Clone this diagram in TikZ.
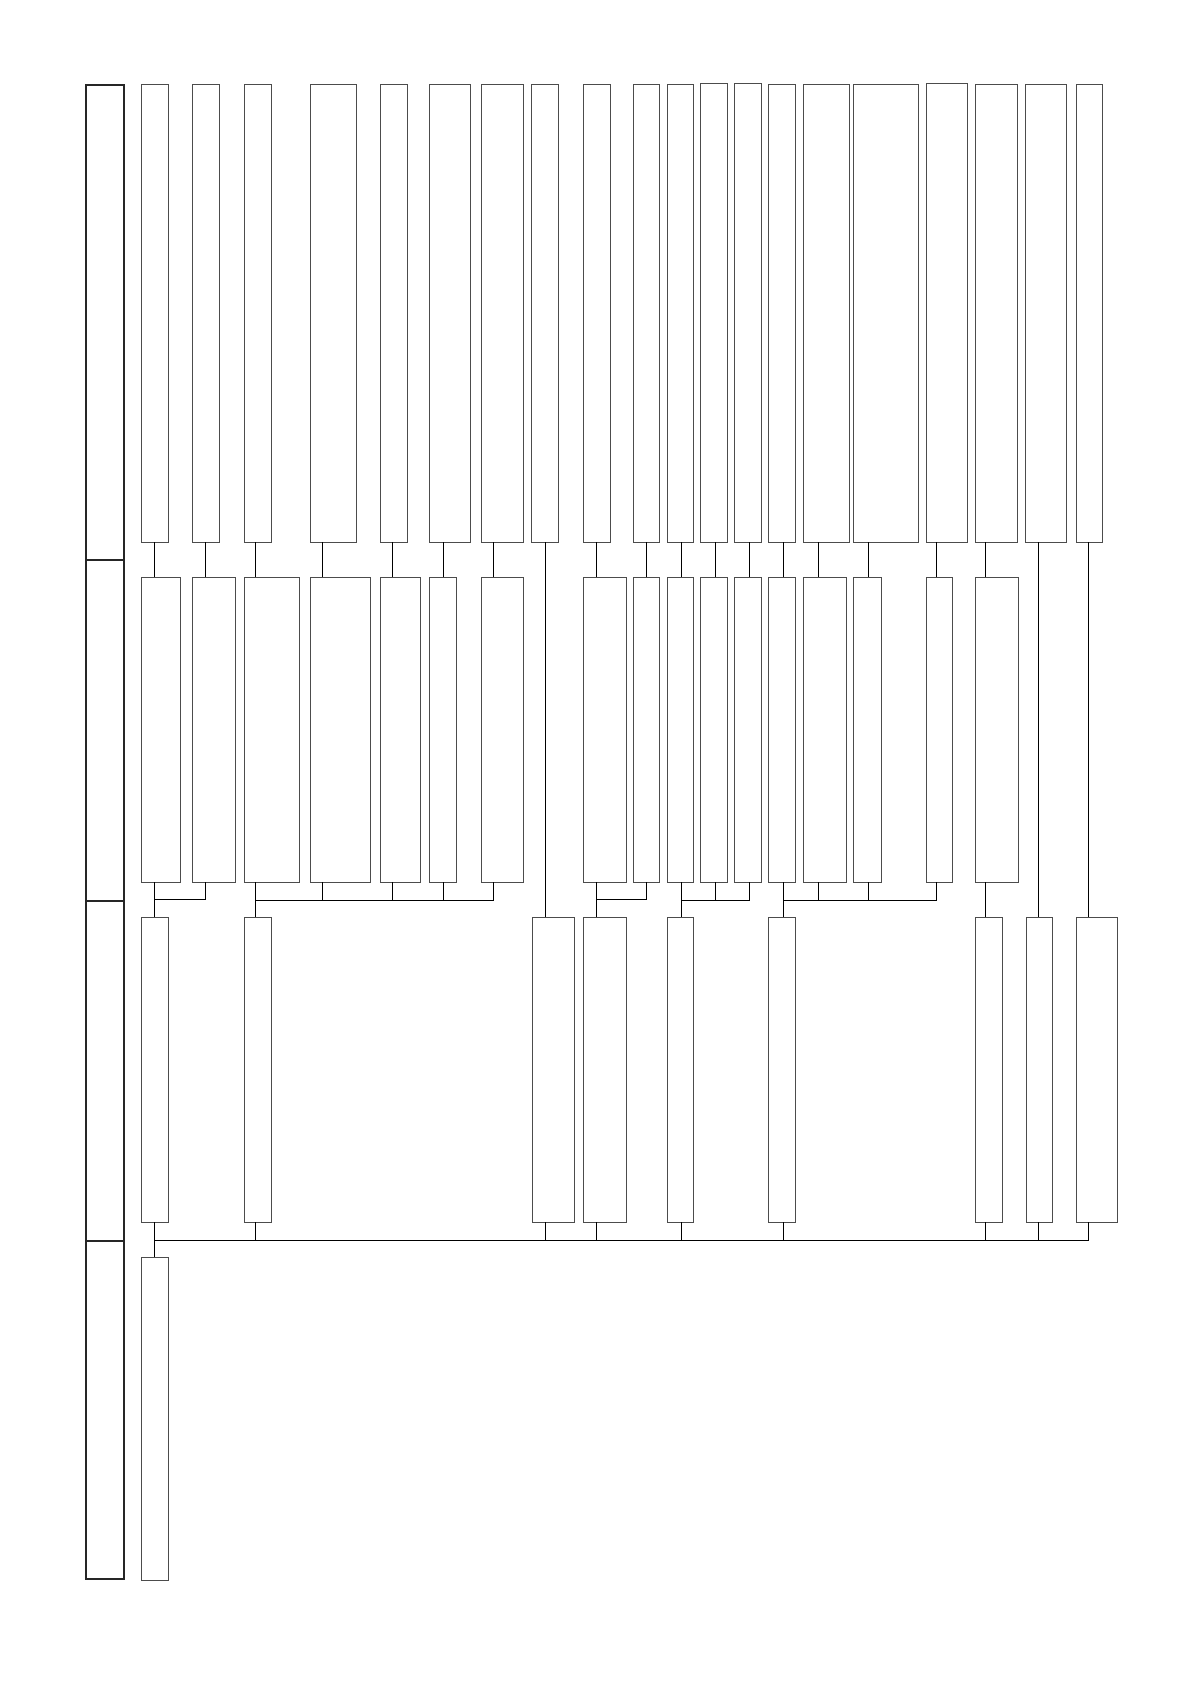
\documentclass[tikz,border=0pt]{standalone}
\begin{document}
\begin{tikzpicture}[x=1pt,y=-1pt,
  boxst/.style={draw=black!70,line width=0.9pt,inner sep=0pt,outer sep=0pt,rectangle},
  bandst/.style={draw=black!85,line width=2pt,inner sep=0pt,outer sep=0pt,rectangle},
  conn/.style={draw=black,line width=0.8pt}]
\useasboundingbox (0,0) rectangle (1190,1682);
\newcommand\mybox[6][boxst]{\node[#1,anchor=north west,minimum width={(#4-#3)*1pt},minimum height={(#6-#5)*1pt}] (#2) at (#3,#5) {};}
% left band
\mybox[bandst]{L1}{86}{123.5}{85}{560}
\mybox[bandst]{L2}{86}{123.5}{560}{901}
\mybox[bandst]{L3}{86}{123.5}{901}{1241}
\mybox[bandst]{L4}{86}{123.5}{1241}{1579}
% top row
\mybox{t1}{141.7}{168.1}{84}{542}
\mybox{t2}{192.5}{219.5}{84}{542}
\mybox{t3}{244.6}{271.0}{84}{542}
\mybox{t4}{310.3}{356.3}{84}{542}
\mybox{t5}{380.7}{407.8}{84}{542}
\mybox{t6}{429.4}{470.7}{84}{542}
\mybox{t7}{481.6}{523.5}{84}{542}
\mybox{t8}{531.6}{558.7}{84}{542}
\mybox{t9}{583.8}{610.9}{84}{542}
\mybox{t10}{633.2}{659.6}{84}{542}
\mybox{t11}{667.1}{693.5}{84}{542}
\mybox{t12}{700.9}{727.3}{83}{542}
\mybox{t13}{734.8}{761.2}{83}{542}
\mybox{t14}{768.7}{795.7}{84}{542}
\mybox{t15}{803.2}{849.2}{84}{542}
\mybox{t16}{853.3}{918.3}{84}{542}
\mybox{t17}{926.4}{967.0}{83}{542}
\mybox{t18}{975.8}{1017.1}{84}{542}
\mybox{t19}{1025.9}{1066.6}{84}{542}
\mybox{t20}{1076.0}{1102.4}{84}{542}
% second row
\mybox{s1}{141.7}{180.3}{577}{882}
\mybox{s2}{192.5}{235.1}{577}{882}
\mybox{s3}{244.6}{299.4}{577}{882}
\mybox{s4}{310.3}{370.5}{577}{882}
\mybox{s5}{380.7}{420.6}{577}{882}
\mybox{s6}{429.4}{456.5}{577}{882}
\mybox{s7}{481.6}{523.5}{577}{882}
\mybox{s9}{583.8}{626.5}{577}{882}
\mybox{s10}{633.2}{659.6}{577}{882}
\mybox{s11}{667.1}{693.5}{577}{882}
\mybox{s12}{700.9}{727.3}{577}{882}
\mybox{s13}{734.8}{761.2}{577}{882}
\mybox{s14}{768.7}{795.7}{577}{882}
\mybox{s15}{803.2}{846.5}{577}{882}
\mybox{s16}{853.3}{881.0}{577}{882}
\mybox{s17}{926.4}{952.1}{577}{882}
\mybox{s18}{975.8}{1018.5}{577}{882}
% third row
\mybox{rA}{141.7}{168.1}{917}{1222}
\mybox{rB}{244.6}{271.0}{917}{1222}
\mybox{rC}{532.0}{574.5}{917}{1222}
\mybox{rD}{583.8}{626.5}{917}{1222}
\mybox{rE}{667.1}{693.5}{917}{1222}
\mybox{rF}{768.7}{795.7}{917}{1222}
\mybox{rG}{975.7}{1002.0}{917}{1222}
\mybox{rH}{1026.0}{1052.8}{917}{1222}
\mybox{rI}{1076.5}{1117.8}{917}{1222}
% fourth row
\mybox{rJ}{141.7}{168.1}{1257}{1580}
% connector x positions and bar levels
\coordinate (k1) at (154.3,0);
\coordinate (k2) at (205,0);
\coordinate (k3) at (255.5,0);
\coordinate (k4) at (322.5,0);
\coordinate (k5) at (392.5,0);
\coordinate (k6) at (443,0);
\coordinate (k7) at (493,0);
\coordinate (k8) at (545,0);
\coordinate (k9) at (596,0);
\coordinate (k10) at (646,0);
\coordinate (k11) at (681,0);
\coordinate (k12) at (715,0);
\coordinate (k13) at (749,0);
\coordinate (k14) at (783.3,0);
\coordinate (k15) at (818,0);
\coordinate (k16) at (868.5,0);
\coordinate (k17) at (936,0);
\coordinate (k18) at (985.5,0);
\coordinate (k19) at (1038.5,0);
\coordinate (k20) at (1088,0);
\coordinate (gA) at (0,899.3);
\coordinate (gB) at (0,900.3);
\coordinate (gZ) at (0,1240.3);
% top -> second
\foreach \i in {1,2,3,4,5,6,7,9,10,11,12,13,14,15,16,17,18}{
  \draw[conn] (t\i.south -| k\i) -- (s\i.north -| k\i);
}
% second -> third (groups)
\draw[conn] (s1.south -| k1) -- (rA.north -| k1);
\draw[conn] (s2.south -| k2) |- (gA -| k1);
\draw[conn] (s3.south -| k3) -- (rB.north -| k3);
\foreach \i in {4,5,6,7}{\draw[conn] (s\i.south -| k\i) |- (gB -| k3);}
\draw[conn] (t8.south -| k8) -- (rC.north -| k8);
\draw[conn] (s9.south -| k9) -- (rD.north -| k9);
\draw[conn] (s10.south -| k10) |- (gA -| k9);
\draw[conn] (s11.south -| k11) -- (rE.north -| k11);
\foreach \i in {12,13}{\draw[conn] (s\i.south -| k\i) |- (gB -| k11);}
\draw[conn] (s14.south -| k14) -- (rF.north -| k14);
\foreach \i in {15,16,17}{\draw[conn] (s\i.south -| k\i) |- (gB -| k14);}
\draw[conn] (s18.south -| k18) -- (rG.north -| k18);
\draw[conn] (t19.south -| k19) -- (rH.north -| k19);
\draw[conn] (t20.south -| k20) -- (rI.north -| k20);
% third -> fourth
\draw[conn] (rA.south -| k1) -- (rJ.north -| k1);
\draw[conn] (rB.south -| k3) |- (gZ -| k1);
\draw[conn] (rC.south -| k8) |- (gZ -| k1);
\draw[conn] (rD.south -| k9) |- (gZ -| k1);
\draw[conn] (rE.south -| k11) |- (gZ -| k1);
\draw[conn] (rF.south -| k14) |- (gZ -| k1);
\draw[conn] (rG.south -| k18) |- (gZ -| k1);
\draw[conn] (rH.south -| k19) |- (gZ -| k1);
\draw[conn] (rI.south -| k20) |- (gZ -| k1);
\end{tikzpicture}
\end{document}
